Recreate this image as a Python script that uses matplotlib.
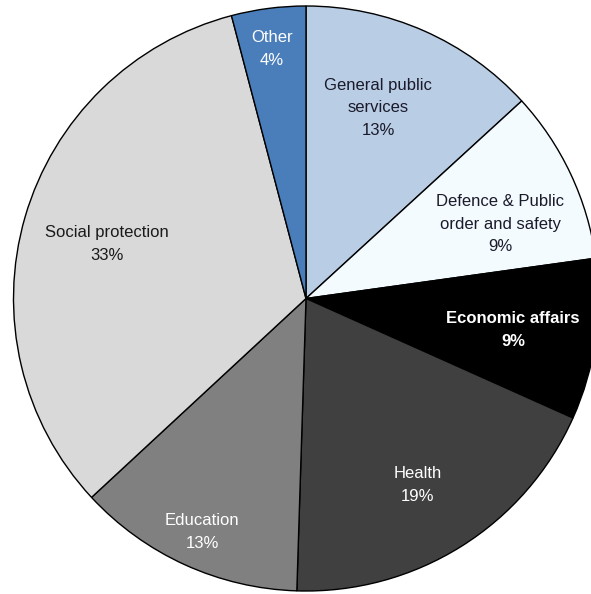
import matplotlib
matplotlib.use("Agg")
import matplotlib.pyplot as plt

categories = ["General public\nservices", "Defence & Public\norder and safety", "Economic affairs",
              "Health", "Education", "Social protection", "Other"]
values = [13.2, 9.6, 8.9, 18.8, 12.6, 32.8, 4.1]
pct_labels = ["13%", "9%", "9%", "19%", "13%", "33%", "4%"]

colors = ["#B9CDE5", "#F3FBFF", "#000000", "#404040", "#808080", "#D9D9D9", "#4A7EBB"]
text_colors = ["#1a1a2a", "#1a1a2a", "white", "white", "white", "#1a1a1a", "white"]
weights = ["normal", "normal", "bold", "normal", "normal", "normal", "normal"]
# label centres in pixel coords (x, y from top)
label_pos = [(378, 108), (500, 224), (513, 330), (418, 485), (202, 532), (107, 244), (272, 49)]

W, H = 591, 594
fig = plt.figure(figsize=(W / 100, H / 100), dpi=100)
ax = fig.add_axes([0, 0, 1, 1])
cx, cy, r = 306, H - 298.5, 292.5
ax.pie(values, colors=colors, startangle=90, counterclock=False, center=(cx, cy), radius=r,
       wedgeprops=dict(edgecolor="black", linewidth=1.0))
ax.set_xlim(0, W)
ax.set_ylim(0, H)
ax.set_aspect("equal")
ax.axis("off")

for cat, pct, (px, py), tc, w in zip(categories, pct_labels, label_pos, text_colors, weights):
    ax.text(px, H - py, cat + "\n" + pct, ha="center", va="center", color=tc,
            fontsize=12, fontweight=w, family="Liberation Sans", linespacing=1.65)

fig.savefig("out.png", dpi=100)
